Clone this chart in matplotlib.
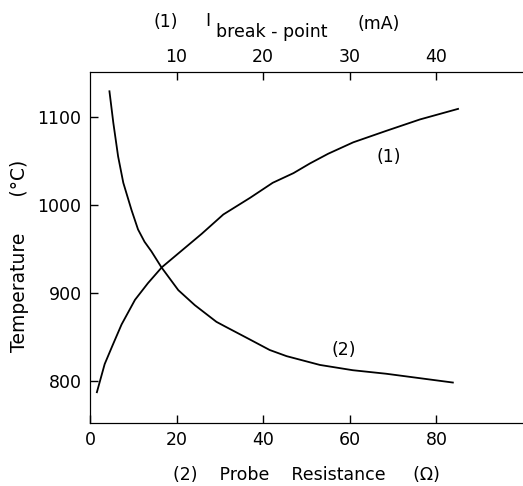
import matplotlib.pyplot as plt
import numpy as np

# curve (1): temperature vs break-point current (top axis, mA)
i_break = [0.8, 1.7, 2.6, 3.65, 5.2, 6.7, 8.3, 10.6, 12.9, 15.4, 18.5, 21.1,
           23.5, 25.4, 27.5, 30.4, 34.2, 38.1, 42.5]
temp_1 = [787, 819, 840, 864, 892, 911, 929, 948, 967, 989, 1008, 1025,
          1036, 1047, 1058, 1071, 1084, 1097, 1109]

# curve (2): temperature vs probe resistance (bottom axis, ohm)
resistance = [4.5, 5.4, 6.5, 7.7, 9.6, 11.1, 12.6, 14.2, 16.5, 20.4, 24.2, 29.2,
              31.1, 36.9, 41.5, 45.4, 53.1, 60.7, 68.4, 76.1, 83.8]
temp_2 = [1129, 1093, 1055, 1025, 994, 972, 958, 947, 929, 903, 886, 867,
          862, 847, 835, 828, 818, 812, 808, 803, 798]

plt.rcParams['font.family'] = ['DejaVu Sans']
fig = plt.figure(figsize=(5.23, 4.86), dpi=100)
W, H = 523, 486
ax = fig.add_axes([0.172, 0.1296, 0.828, 0.7224])

ax.plot(resistance, temp_2, color='black', lw=1.3, solid_joinstyle='round')
ax.set_xlim(0, 100)
ax.set_ylim(752, 1151)
ax.set_xticks([0, 20, 40, 60, 80])
ax.set_yticks([800, 900, 1000, 1100])
ax.tick_params(direction='in', length=6, width=1, labelsize=12.5, pad=6)
ax.spines['right'].set_visible(False)
ax.set_xlabel('(2)    Probe    Resistance     (\u03a9)', fontsize=12.5, labelpad=12)

ax2 = ax.twiny()
ax2.plot(i_break, temp_1, color='black', lw=1.3, solid_joinstyle='round')
ax2.set_xlim(0, 50)
ax2.set_xticks([10, 20, 30, 40])
ax2.tick_params(direction='in', length=6, width=1, labelsize=12.5, pad=4)
ax2.spines['right'].set_visible(False)

# top axis label, built from pieces so the subscript stays near full size
fig.text(166 / W, 1 - 27 / H, '(1)', fontsize=12.5, ha='center', va='baseline')
fig.text(208 / W, 1 - 26 / H, 'I', fontsize=12.5, ha='center', va='baseline')
fig.text(272 / W, 1 - 37 / H, 'break - point', fontsize=12.5, ha='center', va='baseline')
fig.text(379 / W, 1 - 29 / H, '(mA)', fontsize=12.5, ha='center', va='baseline')

fig.text(20 / W, 1 - 256 / H, 'Temperature      (\u00b0C)', fontsize=13.5,
         rotation=90, ha='center', va='center')

ax.text(69, 1054, '(1)', fontsize=12.5, ha='center', va='center')
ax.text(58.6, 835, '(2)', fontsize=12.5, ha='center', va='center')

plt.savefig('out.png', dpi=100)
